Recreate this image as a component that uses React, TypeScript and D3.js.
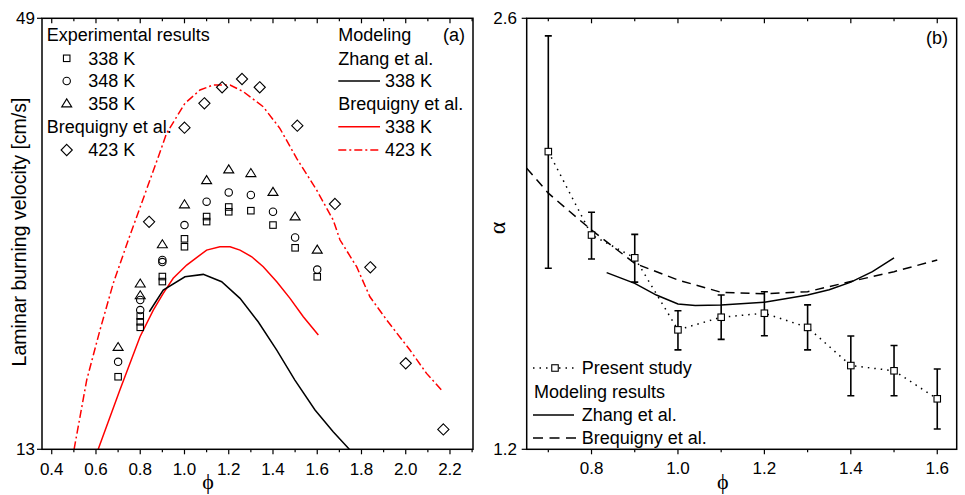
import React from "react";
import * as d3 from "d3";

// ---------- Panel (a) data ----------
const exp338Phi = [0.7, 0.8, 0.8, 0.8, 0.9, 0.9, 1.0, 1.0, 1.1, 1.1, 1.2, 1.2, 1.3, 1.4, 1.5, 1.6];
const exp338V = [19.06, 24.13, 23.65, 23.19, 27.43, 27.01, 30.58, 29.92, 32.44, 32.02, 33.24, 32.84, 32.93, 31.73, 29.83, 27.41];
const exp348Phi = [0.7, 0.8, 0.8, 0.9, 0.9, 1.0, 1.1, 1.2, 1.3, 1.4, 1.5, 1.6];
const exp348V = [20.31, 25.47, 24.63, 28.81, 28.64, 31.73, 33.68, 34.46, 34.24, 32.84, 30.69, 28.01];
const exp358Phi = [0.7, 0.8, 0.8, 0.9, 1.0, 1.1, 1.2, 1.3, 1.4, 1.5, 1.6];
const exp358V = [21.56, 26.86, 25.88, 30.14, 33.47, 35.49, 36.39, 36.08, 34.51, 32.46, 29.69];
const brq423Phi = [0.84, 1.0, 1.09, 1.17, 1.26, 1.34, 1.51, 1.68, 1.84, 2.0, 2.17];
const brq423V = [32.0, 39.86, 41.9, 43.24, 43.93, 43.24, 40.03, 33.49, 28.2, 20.18, 14.66];

const zhang338Phi = [0.841, 0.904, 1.002, 1.085, 1.168, 1.251, 1.333, 1.417, 1.499, 1.59, 1.672, 1.745];
const zhang338V = [24.49, 26.3, 27.41, 27.61, 27.0, 25.61, 23.65, 21.29, 18.78, 16.28, 14.46, 13.0];
const brqModel338Phi = [0.61, 0.708, 0.799, 0.859, 0.904, 0.949, 1.01, 1.1, 1.16, 1.206, 1.251, 1.304, 1.356, 1.417, 1.477, 1.537, 1.605];
const brqModel338V = [13.0, 17.95, 22.4, 24.63, 26.03, 27.28, 28.39, 29.64, 29.92, 29.92, 29.64, 29.08, 28.25, 27.0, 25.61, 24.07, 22.54];
const brqModel423Phi = [0.501, 0.558, 0.618, 0.678, 0.746, 0.882, 0.919, 1.002, 1.07, 1.13, 1.206, 1.266, 1.356, 1.431, 1.507, 1.597, 1.672, 1.703, 1.778, 1.838, 1.914, 2.019, 2.094, 2.162];
const brqModel423V = [13.0, 18.78, 22.96, 26.86, 30.48, 37.44, 39.39, 41.9, 43.01, 43.43, 43.43, 42.87, 41.61, 39.81, 37.3, 34.66, 32.15, 30.48, 28.25, 25.74, 23.8, 21.29, 19.34, 17.95];

const xTicksA = [0.4, 0.6, 0.8, 1.0, 1.2, 1.4, 1.6, 1.8, 2.0, 2.2];
const yTicksA = [13, 49];

// ---------- Panel (b) data ----------
const presentPhi = [0.7, 0.8, 0.9, 1.0, 1.1, 1.2, 1.3, 1.4, 1.5, 1.6];
const presentAlpha = [2.167, 1.896, 1.822, 1.588, 1.629, 1.642, 1.596, 1.472, 1.455, 1.364];
const presentHigh = [2.543, 1.97, 1.898, 1.65, 1.701, 1.712, 1.669, 1.568, 1.537, 1.461];
const presentLow = [1.788, 1.818, 1.743, 1.523, 1.557, 1.569, 1.523, 1.374, 1.374, 1.266];

const zhangAlphaPhi = [0.835, 0.9, 0.95, 1.0, 1.04, 1.1, 1.2, 1.3, 1.35, 1.4, 1.45, 1.5];
const zhangAlpha = [1.774, 1.739, 1.701, 1.672, 1.667, 1.669, 1.678, 1.701, 1.718, 1.743, 1.777, 1.822];
const brqAlphaPhi = [0.65, 0.7, 0.8, 0.9, 1.0, 1.1, 1.2, 1.3, 1.4, 1.5, 1.6];
const brqAlpha = [2.113, 2.032, 1.912, 1.804, 1.75, 1.71, 1.705, 1.712, 1.745, 1.777, 1.815];

const xTicksB = [0.8, 1.0, 1.2, 1.4, 1.6];
const yTicksB = [1.2, 2.6];

const FONT = "'Liberation Sans', Arial, Helvetica, sans-serif";
const SERIF = "'Liberation Serif', 'DejaVu Serif', 'Times New Roman', serif";
const RED = "#ff0000";

const zip = (a: number[], b: number[]) => a.map((v, i) => [v, b[i]] as [number, number]);

function Square({ x, y, s = 6.5, fill = "none" }: any) {
  return <rect x={x - s / 2} y={y - s / 2} width={s} height={s} fill={fill} stroke="#000" strokeWidth={1.1} />;
}
function Circle({ x, y }: any) {
  return <circle cx={x} cy={y} r={3.7} fill="none" stroke="#000" strokeWidth={1.1} />;
}
function Triangle({ x, y }: any) {
  const w = 5, h = 8;
  return <path d={`M${x},${y - h * 0.55} L${x + w},${y + h * 0.45} L${x - w},${y + h * 0.45} Z`} fill="none" stroke="#000" strokeWidth={1.1} />;
}
function Diamond({ x, y }: any) {
  const r = 5.6;
  return <path d={`M${x},${y - r} L${x + r},${y} L${x},${y + r} L${x - r},${y} Z`} fill="none" stroke="#000" strokeWidth={1.1} />;
}

export default function App() {
  // Panel (a)
  const L = { l: 42, r: 473, t: 18.3, b: 449.3 };
  const xA = d3.scaleLinear().domain([0.356, 2.304]).range([L.l, L.r]);
  const yA = d3.scaleLinear().domain([13, 49]).range([L.b, L.t]);
  const lineA = d3.line<[number, number]>().x((d) => xA(d[0])).y((d) => yA(d[1]));
  const minorA = d3.range(0.4, 2.31, 0.1).map((v) => +v.toFixed(2));

  // Panel (b)
  const R = { l: 526.7, r: 956.7, t: 18.3, b: 449.3 };
  const xB = d3.scaleLinear().domain([0.65, 1.645]).range([R.l, R.r]);
  const yB = d3.scaleLinear().domain([1.2, 2.6]).range([R.b, R.t]);
  const lineB = d3.line<[number, number]>().x((d) => xB(d[0])).y((d) => yB(d[1]));
  const minorB = d3.range(0.7, 1.61, 0.1).map((v) => +v.toFixed(2));

  const fs = 18;
  const tfs = 17;

  return (
    <svg width={965} height={495} style={{ position: "absolute", left: 0, top: 0, background: "#fff" }} fontFamily={FONT}>
      <defs>
        <clipPath id="clipA"><rect x={L.l} y={L.t} width={L.r - L.l} height={L.b - L.t} /></clipPath>
        <clipPath id="clipB"><rect x={R.l} y={R.t} width={R.r - R.l} height={R.b - R.t} /></clipPath>
      </defs>
      <rect width={965} height={495} fill="#fff" />

      {/* ---------------- Panel (a) ---------------- */}
      {minorA.map((v) => {
        const major = xTicksA.some((t) => Math.abs(t - v) < 1e-6);
        const len = major ? 5 : 3;
        return (
          <g key={"ta" + v}>
            <line x1={xA(v)} x2={xA(v)} y1={L.b} y2={L.b + len} stroke="#000" strokeWidth={1.2} />
            <line x1={xA(v)} x2={xA(v)} y1={L.t} y2={L.t + len} stroke="#000" strokeWidth={1.2} />
          </g>
        );
      })}
      {xTicksA.map((v) => (
        <text key={"la" + v} x={xA(v)} y={469} dy="0.35em" textAnchor="middle" fontSize={tfs}>{v.toFixed(1)}</text>
      ))}
      {yTicksA.map((v) => (
        <g key={"ya" + v}>
          <line x1={L.l - 5} x2={L.l} y1={yA(v)} y2={yA(v)} stroke="#000" strokeWidth={1.2} />
          <text x={35} y={yA(v)} dy="0.35em" textAnchor="end" fontSize={tfs}>{v}</text>
        </g>
      ))}

      <g clipPath="url(#clipA)">
        <path d={lineA(zip(brqModel423Phi, brqModel423V)) || ""} fill="none" stroke={RED} strokeWidth={1.5} strokeDasharray="8,3,2,3" />
        <path d={lineA(zip(brqModel338Phi, brqModel338V)) || ""} fill="none" stroke={RED} strokeWidth={1.5} />
        <path d={lineA(zip(zhang338Phi, zhang338V)) || ""} fill="none" stroke="#000" strokeWidth={1.5} />
        {zip(exp338Phi, exp338V).map((d, i) => <Square key={"s" + i} x={xA(d[0])} y={yA(d[1])} />)}
        {zip(exp348Phi, exp348V).map((d, i) => <Circle key={"c" + i} x={xA(d[0])} y={yA(d[1])} />)}
        {zip(exp358Phi, exp358V).map((d, i) => <Triangle key={"t" + i} x={xA(d[0])} y={yA(d[1])} />)}
        {zip(brq423Phi, brq423V).map((d, i) => <Diamond key={"d" + i} x={xA(d[0])} y={yA(d[1])} />)}
      </g>

      {/* legend (a) */}
      <g fontSize={fs}>
        <text x={46.7} y={35} dy="0.35em">Experimental results</text>
        <Square x={66.7} y={58.3} />
        <text x={88.3} y={58.3} dy="0.35em">338 K</text>
        <Circle x={66.7} y={81} />
        <text x={88.3} y={81} dy="0.35em">348 K</text>
        <Triangle x={66.7} y={103.3} />
        <text x={88.3} y={103.3} dy="0.35em">358 K</text>
        <text x={46.7} y={126.7} dy="0.35em">Brequigny et al.</text>
        <Diamond x={66.7} y={150} />
        <text x={88.3} y={150} dy="0.35em">423 K</text>

        <text x={338.3} y={35} dy="0.35em">Modeling</text>
        <text x={338.3} y={58.3} dy="0.35em">Zhang et al.</text>
        <line x1={338.3} x2={380} y1={81} y2={81} stroke="#000" strokeWidth={1.5} />
        <text x={385} y={81} dy="0.35em">338 K</text>
        <text x={338.3} y={103.3} dy="0.35em">Brequigny et al.</text>
        <line x1={338.3} x2={380} y1={126.7} y2={126.7} stroke={RED} strokeWidth={1.5} />
        <text x={385} y={126.7} dy="0.35em">338 K</text>
        <line x1={338.3} x2={380} y1={150} y2={150} stroke={RED} strokeWidth={1.5} strokeDasharray="8,3,2,3" />
        <text x={385} y={150} dy="0.35em">423 K</text>
        <text x={465} y={35} dy="0.35em" textAnchor="end">(a)</text>
      </g>

      <rect x={L.l} y={L.t} width={L.r - L.l} height={L.b - L.t} fill="none" stroke="#000" strokeWidth={1.5} />
      <text transform={`translate(26,232) rotate(-90)`} textAnchor="middle" fontSize={19.5}>Laminar burning velocity [cm/s]</text>
      <text x={208} y={489} textAnchor="middle" fontSize={22} fontFamily={SERIF}>ϕ</text>

      {/* ---------------- Panel (b) ---------------- */}
      {minorB.map((v) => {
        const major = xTicksB.some((t) => Math.abs(t - v) < 1e-6);
        const len = major ? 5 : 3;
        return (
          <g key={"tb" + v}>
            <line x1={xB(v)} x2={xB(v)} y1={R.b} y2={R.b + len} stroke="#000" strokeWidth={1.2} />
            <line x1={xB(v)} x2={xB(v)} y1={R.t} y2={R.t + len} stroke="#000" strokeWidth={1.2} />
          </g>
        );
      })}
      {xTicksB.map((v) => (
        <text key={"lb" + v} x={xB(v)} y={468} dy="0.35em" textAnchor="middle" fontSize={tfs}>{v.toFixed(1)}</text>
      ))}
      {yTicksB.map((v) => (
        <g key={"yb" + v}>
          <line x1={R.l - 5} x2={R.l} y1={yB(v)} y2={yB(v)} stroke="#000" strokeWidth={1.2} />
          <text x={517} y={yB(v)} dy="0.35em" textAnchor="end" fontSize={tfs}>{v.toFixed(1)}</text>
        </g>
      ))}

      <g clipPath="url(#clipB)">
        <path d={lineB(zip(brqAlphaPhi, brqAlpha)) || ""} fill="none" stroke="#000" strokeWidth={1.5} strokeDasharray="9,6" />
        <path d={lineB(zip(zhangAlphaPhi, zhangAlpha)) || ""} fill="none" stroke="#000" strokeWidth={1.5} />
        <path d={lineB(zip(presentPhi, presentAlpha)) || ""} fill="none" stroke="#000" strokeWidth={1.5} strokeDasharray="1.5,5" />
        {presentPhi.map((p, i) => (
          <g key={"eb" + i}>
            <line x1={xB(p)} x2={xB(p)} y1={yB(presentHigh[i])} y2={yB(presentLow[i])} stroke="#000" strokeWidth={1.6} />
            <line x1={xB(p) - 3.5} x2={xB(p) + 3.5} y1={yB(presentHigh[i])} y2={yB(presentHigh[i])} stroke="#000" strokeWidth={1.6} />
            <line x1={xB(p) - 3.5} x2={xB(p) + 3.5} y1={yB(presentLow[i])} y2={yB(presentLow[i])} stroke="#000" strokeWidth={1.6} />
            <Square x={xB(p)} y={yB(presentAlpha[i])} fill="#fff" />
          </g>
        ))}
      </g>

      {/* legend (b) */}
      <g fontSize={fs}>
        <line x1={533} x2={577} y1={368} y2={368} stroke="#000" strokeWidth={1.5} strokeDasharray="1.5,5" />
        <Square x={555} y={368} fill="#fff" />
        <text x={581.7} y={368} dy="0.35em">Present study</text>
        <text x={534} y={391.7} dy="0.35em">Modeling results</text>
        <line x1={533} x2={574} y1={415} y2={415} stroke="#000" strokeWidth={1.5} />
        <text x={581.7} y={415} dy="0.35em">Zhang et al.</text>
        <line x1={533} x2={577} y1={438} y2={438} stroke="#000" strokeWidth={1.5} strokeDasharray="10,6.5" />
        <text x={581.7} y={438} dy="0.35em">Brequigny et al.</text>
        <text x={948} y={38} dy="0.35em" textAnchor="end">(b)</text>
      </g>

      <rect x={R.l} y={R.t} width={R.r - R.l} height={R.b - R.t} fill="none" stroke="#000" strokeWidth={1.5} />
      <text transform={`translate(505,228) rotate(-90)`} textAnchor="middle" fontSize={24} fontFamily={SERIF}>α</text>
      <text x={722.7} y={489} textAnchor="middle" fontSize={22} fontFamily={SERIF}>ϕ</text>
    </svg>
  );
}
